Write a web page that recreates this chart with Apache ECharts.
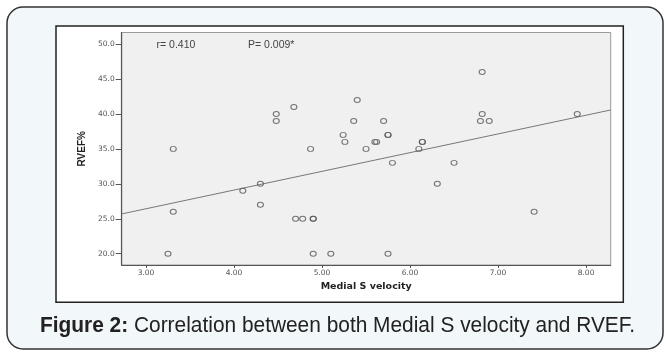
<!DOCTYPE html>
<html>
<head>
<meta charset="utf-8">
<script src="https://cdn.jsdelivr.net/npm/echarts@6/dist/echarts.min.js"></script>
<style>
html,body{margin:0;padding:0;background:#fff;}
#c{width:664px;height:351px;}
</style>
</head>
<body>
<div id="c"></div>
<script>
// Medial S velocity (x) vs RVEF% (y)
var velocity = [3.25,3.31,3.31,4.10,4.30,4.30,4.48,4.48,4.68,4.70,4.78,4.87,4.90,4.90,4.90,5.10,5.24,5.26,5.36,5.40,5.50,5.60,5.62,5.70,5.75,5.75,5.75,5.80,6.10,6.14,6.14,6.31,6.50,6.80,6.82,6.82,6.90,7.41,7.90];
var rvef     = [20,35,26,29,30,27,40,39,41,25,25,35,25,25,20,20,37,36,39,42,35,36,36,39,37,37,20,33,35,36,36,30,33,39,46,40,39,26,40];
// fit line endpoints
var fitX = [2.724, 8.28];
var fitY = [25.69, 40.57];
var xTicks = [3,4,5,6,7,8];
var yTicks = [20,25,30,35,40,45,50];
var xRange = [2.724, 8.28];
var yRange = [18.38, 51.66];
var captionBold = 'Figure 2:';
var captionRest = ' Correlation between both Medial S velocity and RVEF.';

var points = velocity.map(function(v,i){return [v, rvef[i]];});
var fitLine = fitX.map(function(v,i){return [v, fitY[i]];});

// measure caption to condense it to the reference width
var cv = document.createElement('canvas').getContext('2d');
var capSize = 22;
cv.font = 'bold ' + capSize + 'px "Liberation Sans"';
var wB = cv.measureText(captionBold).width;
cv.font = capSize + 'px "Liberation Sans"';
var wR = cv.measureText(captionRest).width;
var capScale = 595 / (wB + wR);

var chart = echarts.init(document.getElementById('c'), null, {renderer:'canvas'});
chart.setOption({
  animation:false,
  backgroundColor:'#ffffff',
  grid:{left:121.7, top:32.5, right:53.3, bottom:86, show:true, backgroundColor:'#f0f0f0', borderColor:'#9a9a9a', borderWidth:1},
  xAxis:{
    type:'value', min:xRange[0], max:xRange[1],
    name:'Medial S velocity', nameLocation:'middle', nameGap:17,
    nameTextStyle:{fontFamily:'DejaVu Sans', fontWeight:'bold', fontSize:9.5, color:'#222'},
    axisLine:{show:true, onZero:false, lineStyle:{color:'#555', width:1.2}},
    axisTick:{show:true, length:3, customValues:xTicks, lineStyle:{color:'#555'}},
    axisLabel:{customValues:xTicks, margin:4, fontFamily:'DejaVu Sans', fontSize:7.5, color:'#555', formatter:function(v){return v.toFixed(2);}},
    splitLine:{show:false}
  },
  yAxis:{
    type:'value', min:yRange[0], max:yRange[1],
    name:'RVEF%', nameLocation:'middle', nameGap:33, nameRotate:90,
    nameTextStyle:{fontFamily:'Liberation Sans', fontWeight:'bold', fontSize:10, color:'#222'},
    axisLine:{show:true, onZero:false, lineStyle:{color:'#555', width:1.2}},
    axisTick:{show:true, length:6, customValues:yTicks, lineStyle:{color:'#555'}},
    axisLabel:{customValues:yTicks, margin:7, fontFamily:'DejaVu Sans', fontSize:7.5, color:'#555', formatter:function(v){return v.toFixed(1);}},
    splitLine:{show:false}
  },
  graphic:[
    {type:'rect', z:-100, silent:true, shape:{x:7, y:7, width:656, height:342, r:16}, style:{fill:'#f2f7fa', stroke:'#333', lineWidth:1.5}},
    {type:'rect', z:-90, silent:true, shape:{x:56, y:26, width:567.3, height:276.3}, style:{fill:'#ffffff', stroke:'#222', lineWidth:1.5}},
    {type:'text', z:100, left:156.5, top:39.5, style:{text:'r= 0.410', font:'10.5px "Liberation Sans"', fill:'#444'}},
    {type:'text', z:100, left:248, top:39.5, style:{text:'P= 0.009*', font:'10.5px "Liberation Sans"', fill:'#444'}},
    {type:'text', z:100, x:40, y:325.5, scaleX:capScale, scaleY:1, style:{
      text:'{b|' + captionBold + '}{n|' + captionRest + '}',
      verticalAlign:'middle', align:'left',
      rich:{
        b:{fontFamily:'Liberation Sans', fontWeight:'bold', fontSize:capSize, fill:'#222'},
        n:{fontFamily:'Liberation Sans', fontSize:capSize, fill:'#222'}
      },
      font:capSize + 'px "Liberation Sans"', fill:'#222'
    }}
  ],
  series:[
    {type:'line', data:fitLine, showSymbol:false, silent:true, lineStyle:{color:'#777', width:1}, z:2},
    {type:'scatter', data:points, symbol:'circle', symbolSize:[6,5], silent:true, z:3,
      itemStyle:{color:'rgba(0,0,0,0)', borderColor:'#555', borderWidth:1}}
  ]
});
</script>
</body>
</html>
